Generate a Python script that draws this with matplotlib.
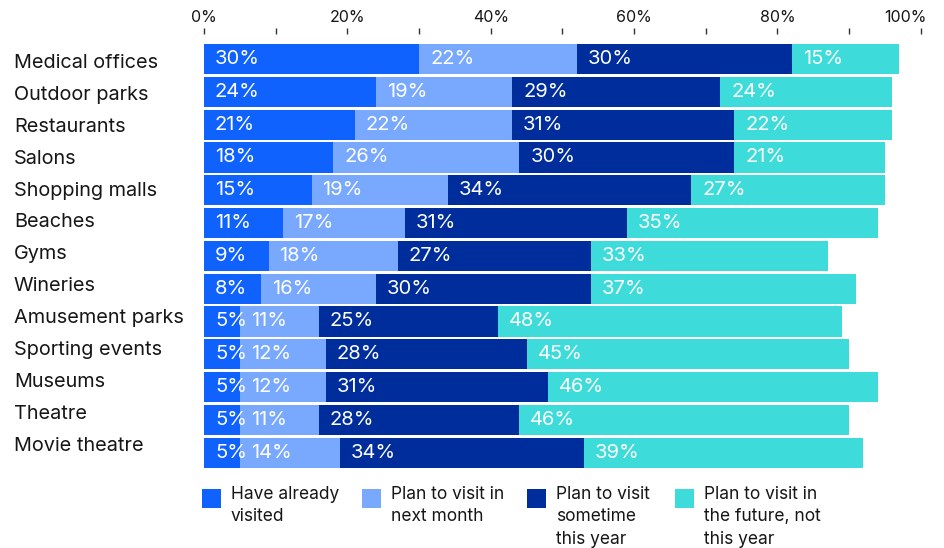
import matplotlib
matplotlib.use("Agg")
import matplotlib.pyplot as plt
from matplotlib.patches import Rectangle
from matplotlib.ticker import MultipleLocator, FuncFormatter
import matplotlib.transforms as mtransforms
import numpy as np

plt.rcParams['font.family'] = ['Inter', 'DejaVu Sans']

categories = ["Medical offices", "Outdoor parks", "Restaurants", "Salons",
              "Shopping malls", "Beaches", "Gyms", "Wineries",
              "Amusement parks", "Sporting events", "Museums", "Theatre",
              "Movie theatre"]
series_names = ["Have already\nvisited", "Plan to visit in\nnext month",
                "Plan to visit\nsometime\nthis year",
                "Plan to visit in\nthe future, not\nthis year"]
already = [30, 24, 21, 18, 15, 11, 9, 8, 5, 5, 5, 5, 5]
next_month = [22, 19, 22, 26, 19, 17, 18, 16, 11, 12, 12, 11, 14]
this_year = [30, 29, 31, 30, 34, 31, 27, 30, 25, 28, 31, 28, 34]
future = [15, 24, 22, 21, 27, 35, 33, 37, 48, 45, 46, 46, 39]
colors = ["#0f62fe", "#78a9ff", "#002d9c", "#3ddbd9"]
tick_values = [0, 20, 40, 60, 80, 100]

W, H = 945, 548
fig = plt.figure(figsize=(W / 100, H / 100), dpi=100)

def fx(px):
    return px / W

def fy(py):
    return 1 - py / H

ax_left, ax_right = 204, 920.7
ax_top, ax_bot = 42.7, 469.0
ax = fig.add_axes([fx(ax_left), fy(ax_bot), fx(ax_right - ax_left), (ax_bot - ax_top) / H])

series = [already, next_month, this_year, future]
y = np.arange(len(categories))
left = np.zeros(len(categories))
pad = mtransforms.ScaledTranslation(11 / 100, 0, fig.dpi_scale_trans)
for vals, col in zip(series, colors):
    vals = np.array(vals, dtype=float)
    ax.barh(y, vals, left=left, height=0.92, color=col, linewidth=0)
    for yi, l, v in zip(y, left, vals):
        ax.text(l, yi, f"{int(v)}%", color="white", fontsize=14.5,
                ha="left", va="center", transform=ax.transData + pad)
    left += vals

ax.set_xlim(0, 100)
ax.set_ylim(len(categories) - 0.5, -0.5)
for s in ax.spines.values():
    s.set_visible(False)
ax.spines['top'].set_position(('outward', 6))
ax.xaxis.tick_top()
ax.xaxis.set_major_locator(MultipleLocator(10))
ax.xaxis.set_major_formatter(FuncFormatter(lambda v, p: f"{int(round(v))}%" if int(round(v)) in tick_values else ""))
ax.tick_params(axis='x', length=4, width=1, color="#333333", pad=3,
               labelsize=11.5, labelcolor="#161616")
ax.set_yticks([])
for lab in ax.get_xticklabels():
    if lab.get_text() == "100%":
        lab.set_transform(lab.get_transform() + mtransforms.ScaledTranslation(-15 / 100, 0, fig.dpi_scale_trans))

# category labels on their own layout axes
lab_top, lab_bot = 47.0, 461.7
lax = fig.add_axes([0, fy(lab_bot), fx(ax_left), (lab_bot - lab_top) / H])
lax.set_xlim(0, 1)
lax.set_ylim(len(categories) - 0.5, -0.5)
lax.axis('off')
for yi, c in zip(y, categories):
    lax.text(fx(14) / fx(ax_left), yi, c, fontsize=14.3, color="#161616",
             ha="left", va="center")

# legend
sq_x = [202, 362, 527, 675]
sq_top, sq_size = 489, 19
for sx, name, col in zip(sq_x, series_names, colors):
    fig.patches.append(Rectangle((fx(sx), fy(sq_top + sq_size)), fx(sq_size), sq_size / H,
                                 transform=fig.transFigure, color=col, linewidth=0))
    fig.text(fx(sx + 29), fy(sq_top - 3), name, fontsize=12.5, color="#161616",
             ha="left", va="top", linespacing=1.42)

fig.savefig("out.png", dpi=100)
